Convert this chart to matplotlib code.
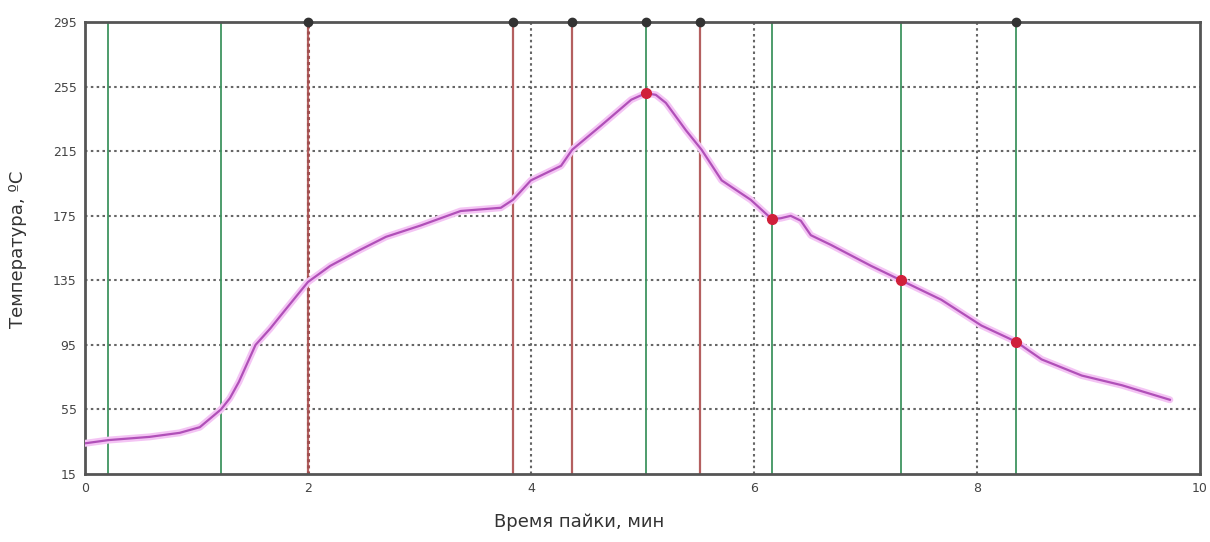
import matplotlib
matplotlib.use("Agg")
import matplotlib.pyplot as plt
import numpy as np

# Data
time_min = [0.0, 0.21, 0.58, 0.85, 1.03, 1.22, 1.30, 1.38, 1.53, 1.66, 1.80, 2.0, 2.2, 2.47, 2.70,
            3.01, 3.37, 3.73, 3.84, 4.0, 4.27, 4.37, 4.63, 4.9, 5.03, 5.12, 5.21, 5.39, 5.53,
            5.71, 5.97, 6.16, 6.24, 6.33, 6.42, 6.51, 6.69, 7.05, 7.32, 7.68, 8.04, 8.35,
            8.58, 8.94, 9.3, 9.73]
temp_c = [34, 36, 38, 40.5, 44, 55, 62, 72, 95, 105, 117, 134, 144, 154, 162,
          169, 178, 180, 185, 197, 206, 216, 231, 247, 251, 250, 245, 228, 216,
          197, 185, 173, 173.5, 175, 172, 163, 157, 144, 135, 123, 107, 97,
          86, 76, 70, 61]

green_lines = [0.21, 1.22, 5.03, 6.16, 7.32, 8.35]
red_lines = [2.0, 3.84, 4.37, 5.52]
top_markers = [2.0, 3.84, 4.37, 5.03, 5.52, 8.35]
dot_x = [5.03, 6.16, 7.32, 8.35]
dot_y = [251, 173, 135, 97]

y_ticks = [15, 55, 95, 135, 175, 215, 255, 295]
x_ticks = [0, 2, 4, 6, 8, 10]

fig = plt.figure(figsize=(12.10, 5.42), dpi=100)
ax = fig.add_axes([0.0702, 0.1255, 0.9215, 0.8335])
ax.set_xlim(0, 10)
ax.set_ylim(15, 295)

for yv in y_ticks[1:-1]:
    ax.axhline(yv, color="#666666", linestyle=(0, (1.2, 1.6)), linewidth=1.5, zorder=1)
for xv in [4, 6, 8]:
    ax.axvline(xv, color="#666666", linestyle=(0, (1.2, 1.6)), linewidth=1.5, zorder=1)

for xv in green_lines:
    ax.axvline(xv, color="#3f9460", linewidth=1.3, zorder=2)
for xv in red_lines:
    ax.axvline(xv, color="#b46060", linewidth=1.6, zorder=2)
ax.axvline(2.0, color="#a05050", linewidth=2.2, linestyle=(0, (1, 1)), zorder=2)

ax.plot(time_min, temp_c, color="#f4c4f4", linewidth=5, zorder=3, solid_capstyle="round")
ax.plot(time_min, temp_c, color="#b050b8", linewidth=1.6, zorder=4)
ax.plot(dot_x, dot_y, "o", color="#d0203a", markersize=7, zorder=5)

ax.plot(top_markers, [295] * len(top_markers), "o", color="#333333", markersize=6,
        clip_on=False, zorder=6)

for s in ax.spines.values():
    s.set_color("#555555")
    s.set_linewidth(2)

ax.set_xticks(x_ticks)
ax.set_yticks(y_ticks)
ax.set_xticklabels([str(v) for v in x_ticks])
ax.set_yticklabels([str(v) for v in y_ticks])
ax.tick_params(axis="both", length=0, labelsize=9, colors="#444444", pad=6)

fig.text(0.479, 0.037, "Время пайки, мин", fontsize=13, color="#333333",
         ha="center", va="center")
fig.text(0.015, 0.54, "Температура, ºС", fontsize=13, color="#333333",
         ha="center", va="center", rotation=90)

fig.savefig("out.png", dpi=100, facecolor="white")
